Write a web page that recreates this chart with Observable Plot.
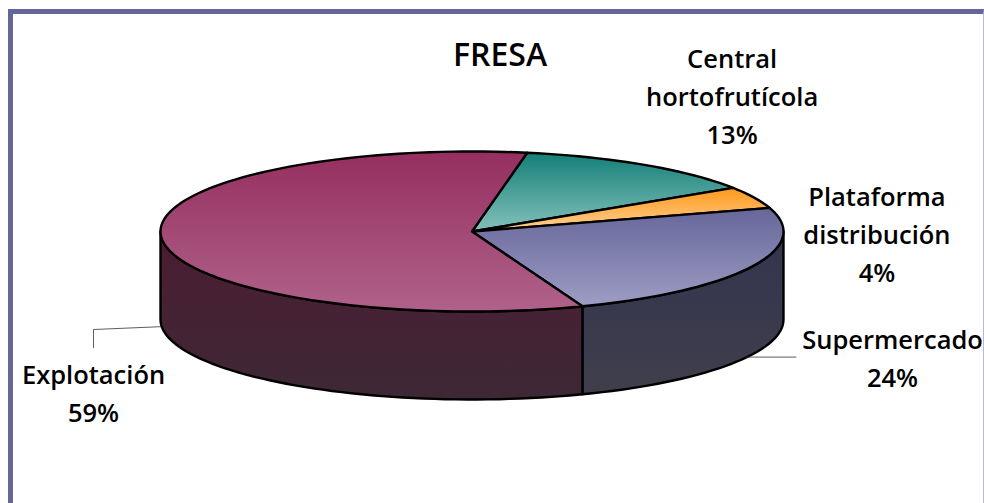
<!DOCTYPE html>
<html>
<head>
<meta charset="utf-8">
<script src="https://cdn.jsdelivr.net/npm/d3@7"></script>
<script src="https://cdn.jsdelivr.net/npm/@observablehq/plot@0.6"></script>
<style>
html,body{margin:0;padding:0;background:#fff;overflow:hidden;}
#wrap{position:relative;width:984px;height:503px;overflow:hidden;}
#frame{position:absolute;left:8px;top:9px;width:976px;height:494px;border-left:5px solid #66669a;border-top:5px solid #66669a;border-right:1px solid #b9b9d2;box-sizing:border-box;background:#fff;}
#chart{position:absolute;left:0;top:0;}
svg{display:block;}
</style>
</head>
<body>
<div id="wrap"><div id="frame"></div><div id="chart"></div></div>
<script>
// Data (clockwise from the pie's start angle)
const categories = ["Central\nhortofrutícola", "Plataforma\ndistribución", "Supermercado", "Explotación"];
const shares = [13, 4.4, 24, 58.6];
const chartTitle = "FRESA";

// Styles
const topColors = [["#137f78","#85c1bb"],["#ff981a","#ffd195"],["#66669a","#9d9dc4"],["#952f60","#b0628a"]];
const sideColors = [["#0d4a46","#1d4a47"],["#8a5a10","#8a6a30"],["#33334f","#3f3f4b"],["#4b1c33","#3e2835"]];
const startAngle = 10.2;
const depth = 1.1; // wall height in y units
// Label placement in chart units
const labelX = [0.835, 1.3, 1.35, -1.215];
const labelY = [1.715, 0, -1.55, -1.99];
const leaders = [
  [[-1,-1.19],[-1.215,-1.225],[-1.215,-1.45]],
  [[0.88,-1.57],[1.04,-1.57]]
];

const rad = a => a * Math.PI / 180;
const total = d3.sum(shares);
let cum = startAngle;
const slices = shares.map((s, i) => {
  const a0 = cum; cum += s / total * 360;
  return {i, a0, a1: cum};
});
const arc = (a0, a1, dz = 0) => {
  const n = Math.max(2, Math.ceil((a1 - a0) / 2));
  return d3.range(n + 1).map(k => {
    const a = a0 + (a1 - a0) * k / n;
    return {x: Math.sin(rad(a)), y: Math.cos(rad(a)) - dz};
  });
};
const topPath = s => {
  const p = [{x: 0, y: 0}, ...arc(s.a0, s.a1)];
  return [...p, p[0]];
};
// Visible wall: the part of a slice on the front half (90..270 degrees)
const sidePath = s => {
  const a0 = Math.max(s.a0, 90), a1 = Math.min(s.a1, 270);
  if (a1 <= a0) return null;
  const p = [...arc(a0, a1), ...arc(a0, a1, depth).reverse()];
  return [...p, p[0]];
};

const defs = () => {
  const d = d3.create("svg:defs");
  const grad = (id, c) => {
    const g = d.append("linearGradient").attr("id", id).attr("x1", 0).attr("y1", 0).attr("x2", 0).attr("y2", 1);
    g.append("stop").attr("offset", 0).attr("stop-color", c[0]);
    g.append("stop").attr("offset", 1).attr("stop-color", c[1]);
  };
  topColors.forEach((c, i) => grad("top" + i, c));
  sideColors.forEach((c, i) => grad("side" + i, c));
  return d.node();
};

const lineOpts = fill => ({x: "x", y: "y", fill, stroke: "#000", strokeWidth: 2.4, strokeLinejoin: "round", curve: "linear"});
const font = "'Open Sans', sans-serif";

const plot = Plot.plot({
  width: 984, height: 503, margin: 0,
  style: {background: "transparent"},
  x: {domain: [-1, 1], range: [160, 783], axis: null},
  y: {domain: [-1, 1], range: [311, 151], axis: null},
  marks: [
    defs,
    ...slices.filter(sidePath).map(s => Plot.line(sidePath(s), lineOpts(`url(#side${s.i})`))),
    ...slices.map(s => Plot.line(topPath(s), lineOpts(`url(#top${s.i})`))),
    ...leaders.map(l => Plot.line(l, {x: d => d[0], y: d => d[1], stroke: "#333", strokeWidth: 0.8})),
    Plot.text(slices, {
      x: d => labelX[d.i], y: d => labelY[d.i],
      text: d => `${categories[d.i]}\n${Math.round(shares[d.i])}%`,
      fontSize: 25.5, fontWeight: 600, fontFamily: font, lineHeight: 1.49,
      fill: "#000", textAnchor: "middle", lineAnchor: "middle"
    }),
    Plot.text([chartTitle], {
      x: [0.09], y: [2.2], text: d => d,
      fontSize: 32, fontWeight: 600, fontFamily: font, fill: "#000", textAnchor: "middle", lineAnchor: "middle"
    })
  ]
});
document.getElementById("chart").append(plot);
</script>
</body>
</html>
